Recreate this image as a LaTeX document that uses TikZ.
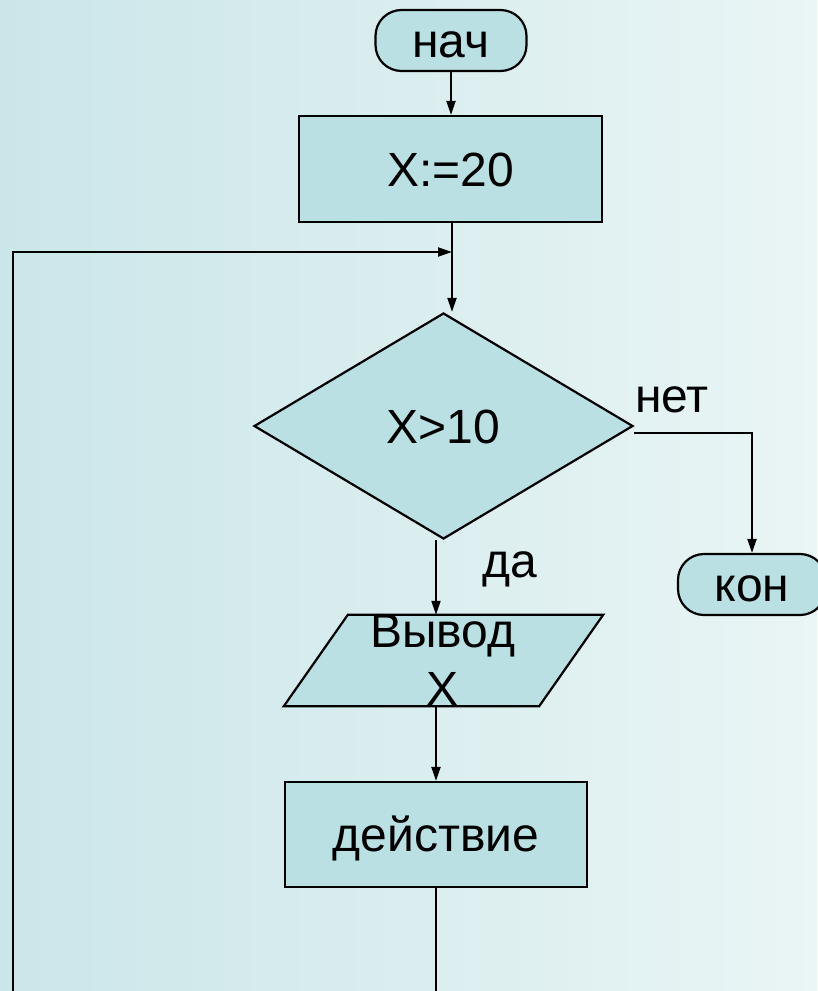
\documentclass[tikz,border=0pt]{standalone}
\usepackage{fontspec}
\setmainfont{Liberation Sans}
\usetikzlibrary{shapes.geometric,arrows.meta}
\definecolor{bgL}{RGB}{203,230,233}
\definecolor{bgR}{RGB}{234,245,245}
\definecolor{boxfill}{RGB}{186,224,227}
\tikzset{
  box/.style={draw=black,line width=2.2pt,fill=boxfill,inner sep=0pt,
    font=\fontsize{48}{58}\selectfont,text height=34.5pt,text depth=0pt},
  term/.style={box,rectangle,rounded corners=26pt},
  dec/.style={box,diamond},
  conn/.style={line width=2pt},
  arr/.style={conn,-{Triangle[length=14pt,width=9pt]}},
  lbl/.style={font=\fontsize{48}{58}\selectfont,inner sep=0pt,anchor=base}
}
\begin{document}
\begin{tikzpicture}[x=1pt,y=-1pt]
\useasboundingbox (0,0) rectangle (817,991);
\fill[left color=bgL,right color=bgR] (0,0) rectangle (817,991);

\node[term,minimum width=151pt,minimum height=61pt] (start) at (451,40.5) {нач};
\node[box,rectangle,minimum width=303pt,minimum height=106pt] (x20) at (450.5,169) {X:=20};
\node[dec,minimum width=379pt,minimum height=226pt] (d) at (443.5,426) {X>10};
\node[term,minimum width=148pt,minimum height=61pt] (kon) at (752,584.5) {кон};
\node[inner sep=0pt,minimum width=319pt,minimum height=91pt] (par) at (443.5,660.5) {};
\fill[boxfill,draw=black,line width=2.2pt,line join=miter]
  (par.south west) -- ([xshift=64pt]par.north west) -- (par.north east)
  -- ([xshift=-64pt]par.south east) -- cycle;
\node[lbl,align=center] (partext) at (443,705) {Вывод\\X};
\node[box,rectangle,minimum width=302pt,minimum height=105pt] (act) at (436,834.5) {действие};

\node[lbl] (net) at (672,412) {нет};
\node[lbl] (da) at (510,577) {да};

\coordinate (lb) at (13,991);
\coordinate (lj) at (452,252);

\draw[arr] (start.south) -- (start.south |- x20.north);
\draw[arr] (x20.south -| lj) -- (lj |- d.north);
\draw[arr] (lb) |- (lj);
\draw[arr] ([yshift=-7pt]d.east) -| (kon.north);
\draw[arr] (act.north |- d.south) -- (act.north |- par.north);
\draw[arr] (act.north |- par.south) -- (act.north);
\draw[conn] (act.south) -- (act.south |- lb);
\end{tikzpicture}
\end{document}
